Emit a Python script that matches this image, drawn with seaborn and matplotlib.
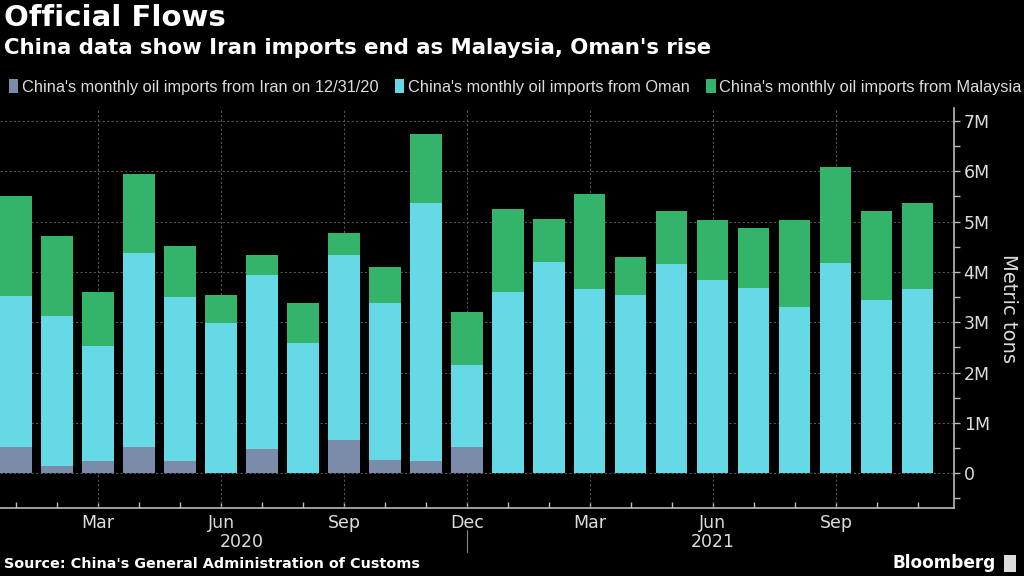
import numpy as np
import pandas as pd
import matplotlib
matplotlib.use("Agg")
import matplotlib.pyplot as plt
import matplotlib.transforms as mtransforms
from matplotlib.patches import Patch, Rectangle
from matplotlib.ticker import FuncFormatter, MultipleLocator
import seaborn as sns

# 数据（单位：百万公吨），2020年1月 - 2021年11月
months = [f"{m} 2020" for m in ["Jan", "Feb", "Mar", "Apr", "May", "Jun",
                                 "Jul", "Aug", "Sep", "Oct", "Nov", "Dec"]] + \
         [f"{m} 2021" for m in ["Jan", "Feb", "Mar", "Apr", "May", "Jun",
                                 "Jul", "Aug", "Sep", "Oct", "Nov"]]
iran = [0.52, 0.15, 0.24, 0.52, 0.24, 0.0, 0.48, 0.0, 0.67, 0.27, 0.24, 0.52] + [np.nan] * 11
oman = [3.00, 2.98, 2.29, 3.85, 3.26, 2.98, 3.46, 2.59, 3.66, 3.12, 5.13, 1.64,
        3.61, 4.19, 3.66, 3.54, 4.15, 3.84, 3.69, 3.31, 4.18, 3.44, 3.67]
malaysia = [1.99, 1.59, 1.08, 1.57, 1.02, 0.57, 0.39, 0.80, 0.44, 0.71, 1.37, 1.04,
            1.64, 0.87, 1.89, 0.76, 1.05, 1.19, 1.19, 1.73, 1.91, 1.77, 1.69]
tick_labels = {2: "Mar", 5: "Jun", 8: "Sep", 11: "Dec", 14: "Mar", 17: "Jun", 20: "Sep"}
series_names = ["China's monthly oil imports from Iran on 12/31/20",
                "China's monthly oil imports from Oman",
                "China's monthly oil imports from Malaysia"]
colors = ["#7b8baa", "#66d9e6", "#33b46a"]

sns.set_style("dark")
plt.rcParams["font.family"] = ["DejaVu Sans"]
plt.rcParams["axes.unicode_minus"] = False

df = pd.DataFrame({"month": months, "iran": iran, "oman": oman, "malaysia": malaysia})
iran0 = df["iran"].fillna(0).to_numpy()
oman_bottom = iran0
mal_bottom = iran0 + df["oman"].to_numpy()

fig = plt.figure(figsize=(10.24, 5.76), dpi=100, facecolor="black")
ax = fig.add_axes([0.0, 0.118, 0.9316, 0.694])
ax.set_facecolor("black")

bw = 0.76
sns.barplot(data=df, x="month", y="iran", order=months, color=colors[0],
            saturation=1, width=bw, ax=ax, zorder=3)
sns.barplot(data=df, x="month", y="oman", order=months, color=colors[1],
            saturation=1, width=bw, ax=ax, bottom=oman_bottom, zorder=3)
sns.barplot(data=df, x="month", y="malaysia", order=months, color=colors[2],
            saturation=1, width=bw, ax=ax, bottom=mal_bottom, zorder=3)
for p in ax.patches:
    p.set_linewidth(0)

ax.set_xlim(-0.39, 22.88)
ax.set_ylim(-0.69, 7.25)

# 坐标轴
for side in ["left", "top"]:
    ax.spines[side].set_visible(False)
for side in ["right", "bottom"]:
    ax.spines[side].set_visible(True)
    ax.spines[side].set_color("#bbbbbb")
    ax.spines[side].set_linewidth(1.2)

ax.set_xticks(range(len(months)))
ax.set_xticklabels([tick_labels.get(i, "") for i in range(len(months))])
ax.tick_params(axis="x", direction="in", length=4, width=1, color="#bbbbbb",
               labelcolor="#dddddd", labelsize=12.5, pad=4, bottom=True)
ax.set_xlabel("")

ax.yaxis.tick_right()
ax.yaxis.set_label_position("right")
ax.yaxis.set_major_locator(MultipleLocator(1))
ax.yaxis.set_minor_locator(MultipleLocator(0.5))
ax.yaxis.set_major_formatter(FuncFormatter(lambda v, _: "0" if abs(v) < 1e-9 else f"{int(round(v))}M"))
ax.tick_params(axis="y", which="both", direction="out", length=4, width=1, color="#bbbbbb",
               labelcolor="#dddddd", labelsize=12.5, pad=3, right=True, left=False)
ax.set_ylabel("Metric tons", rotation=270, color="#dddddd", fontsize=14, labelpad=20)

# 网格
ax.grid(False)
for y in range(0, 8):
    ax.axhline(y, color="#555555", lw=0.8, ls=(0, (2, 2)), zorder=1)
for i in tick_labels:
    ax.axvline(i, color="#555555", lw=0.8, ls=(0, (2, 2)), zorder=1)

# 年份标签
trans = mtransforms.blended_transform_factory(ax.transData, ax.transAxes)
ax.text(5.5, -0.085, "2020", transform=trans, ha="center", va="center",
        color="#dddddd", fontsize=12.5)
ax.text(17, -0.085, "2021", transform=trans, ha="center", va="center",
        color="#dddddd", fontsize=12.5)
ax.plot([11, 11], [-0.055, -0.11], transform=trans, color="#888888", lw=0.8, clip_on=False)

# 标题
fig.text(0.004, 1 - 18 / 576, "Official Flows", color="white", fontsize=21,
         fontweight="bold", ha="left", va="center")
fig.text(0.004, 1 - 48 / 576, "China data show Iran imports end as Malaysia, Oman's rise",
         color="white", fontsize=15.3, fontweight="bold", ha="left", va="center")

handles = [Patch(facecolor=c, edgecolor="none") for c in colors]
leg = fig.legend(handles, series_names, loc="center left", bbox_to_anchor=(0.002, 1 - 87 / 576),
                 ncol=3, frameon=False, handlelength=0.6, handleheight=0.9,
                 handletextpad=0.2, columnspacing=1.0, borderaxespad=0,
                 prop={"family": ["Liberation Sans", "DejaVu Sans"], "size": 11.75})
for t in leg.get_texts():
    t.set_color("#dddddd")

# 页脚
fig.text(0.004, 1 - 564 / 576, "Source: China's General Administration of Customs",
         color="white", fontsize=10.4, fontweight="bold", ha="left", va="center")
fig.text(0.972, 1 - 563 / 576, "Bloomberg", color="white", fontsize=12.2,
         fontweight="bold", ha="right", va="center")
fig.patches.append(Rectangle((1004 / 1024, 1 - 572 / 576), 12 / 1024, 17 / 576,
                             transform=fig.transFigure, facecolor="#dddddd", edgecolor="none"))

plt.savefig("out.png", dpi=100, facecolor="black")
plt.close()
